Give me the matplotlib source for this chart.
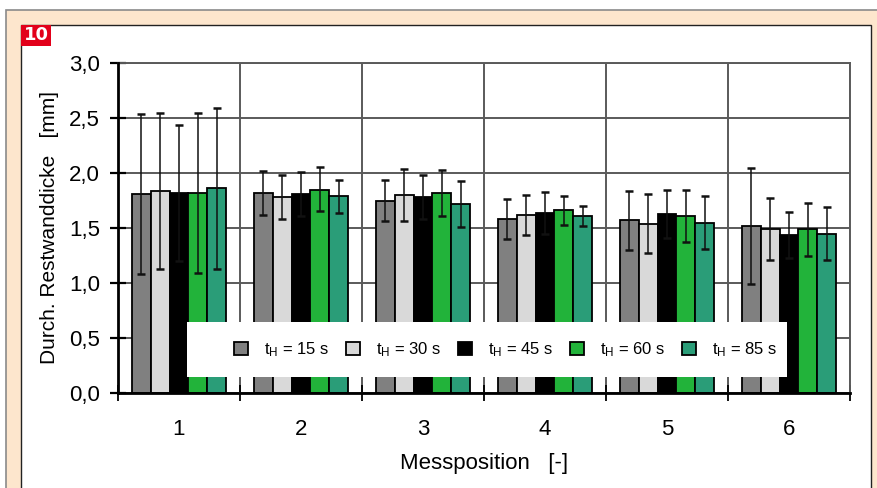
import matplotlib

matplotlib.use("Agg")
import matplotlib.pyplot as plt
import numpy as np
from matplotlib.patches import Rectangle
from matplotlib.ticker import FixedLocator, FuncFormatter

plt.rcParams["font.family"] = ["Liberation Sans Narrow", "Liberation Sans", "DejaVu Sans"]

# data
positions = [1, 2, 3, 4, 5, 6]
series_labels = ["15 s", "30 s", "45 s", "60 s", "85 s"]
series_colors = ["#808080", "#d9d9d9", "#000000", "#22b33a", "#2a9d78"]

th15 = [1.81, 1.82, 1.75, 1.58, 1.57, 1.52]
th30 = [1.84, 1.78, 1.80, 1.62, 1.54, 1.49]
th45 = [1.82, 1.81, 1.78, 1.64, 1.63, 1.44]
th60 = [1.82, 1.85, 1.82, 1.66, 1.61, 1.49]
th85 = [1.86, 1.79, 1.72, 1.61, 1.55, 1.45]

err15 = [0.73, 0.20, 0.19, 0.18, 0.27, 0.53]
err30 = [0.71, 0.20, 0.24, 0.18, 0.27, 0.28]
err45 = [0.62, 0.20, 0.20, 0.19, 0.22, 0.21]
err60 = [0.73, 0.20, 0.21, 0.13, 0.24, 0.24]
err85 = [0.73, 0.15, 0.21, 0.09, 0.24, 0.24]

means = [th15, th30, th45, th60, th85]
errors = [err15, err30, err45, err60, err85]

W, H = 878, 488
fig = plt.figure(figsize=(W / 100, H / 100), dpi=100)


def fx(x):
    return x / W


def fy(y):
    return 1 - y / H


# page frame: peach border with grey outline, white inner panel
fig.patches.append(Rectangle((fx(6), fy(492)), fx(890 - 6), fy(10) - fy(492),
                             transform=fig.transFigure, facecolor="#fde6cd",
                             edgecolor="#8a8a8a", linewidth=1.2, zorder=-10))
fig.patches.append(Rectangle((fx(21), fy(492)), fx(871 - 21), fy(25) - fy(492),
                             transform=fig.transFigure, facecolor="white",
                             edgecolor="#222222", linewidth=1.0, zorder=-9))
fig.patches.append(Rectangle((fx(21), fy(46)), fx(30), fy(25) - fy(46),
                             transform=fig.transFigure, facecolor="#e2001a",
                             edgecolor="none", zorder=-8))
fig.text(fx(36), fy(35.5), "10", color="white", fontsize=13, fontweight="bold",
         family="DejaVu Sans", ha="center", va="center")

ax = fig.add_axes([fx(118), fy(393), fx(850 - 118), fy(63) - fy(393)])
ax.set_facecolor("none")

n = len(means)
bar_w = 0.154
x = np.array(positions, dtype=float)
for i in range(n):
    offs = (i - (n - 1) / 2) * bar_w
    ax.bar(x + offs, means[i], width=bar_w, color=series_colors[i],
           edgecolor="black", linewidth=1.3, zorder=2,
           label=r"$\mathregular{t_H}$ = " + series_labels[i])
    ax.errorbar(x + offs, means[i], yerr=errors[i], fmt="none", ecolor="#111111",
                elinewidth=1.1, capsize=3, capthick=1.8, zorder=3)

ax.set_xlim(0.5, 6.5)
ax.set_ylim(0, 3.0)

ax.yaxis.set_major_locator(FixedLocator(np.arange(0, 3.01, 0.5)))
ax.yaxis.set_major_formatter(FuncFormatter(lambda v, p: f"{v:.1f}".replace(".", ",")))
ax.set_xticks(positions)
ax.set_xticklabels([str(p) for p in positions])
ax.xaxis.set_minor_locator(FixedLocator(np.arange(0.5, 6.6, 1.0)))

ax.tick_params(axis="x", which="major", length=0, pad=19, labelsize=16)
ax.tick_params(axis="x", which="minor", direction="inout", length=12, width=1.3)
ax.tick_params(axis="y", direction="inout", length=12, width=1.6, pad=7, labelsize=16)

ax.grid(True, axis="y", color="#5a5a5a", linewidth=1.4, zorder=0)
ax.grid(True, axis="x", which="minor", color="#5a5a5a", linewidth=1.4, zorder=0)
ax.set_axisbelow(True)

for s in ["top", "right"]:
    ax.spines[s].set_color("#5a5a5a")
    ax.spines[s].set_linewidth(1.4)
for s in ["left", "bottom"]:
    ax.spines[s].set_color("black")
    ax.spines[s].set_linewidth(2.0)
    ax.spines[s].set_zorder(6)

ax.set_xlabel("Messposition   [-]", fontsize=16, labelpad=9)
ax.set_ylabel("Durch. Restwanddicke   [mm]", fontsize=15, labelpad=7)

# legend box covering the lower part of the bars
ax.add_patch(Rectangle(((187 - 118) / 732, (393 - 377) / 330),
                       (787 - 187) / 732, (377 - 322) / 330,
                       transform=ax.transAxes, facecolor="white",
                       edgecolor="none", zorder=4))
leg = ax.legend(loc="center", bbox_to_anchor=((506 - 118) / 732, (393 - 350) / 330),
                ncol=5, frameon=False, fontsize=12, handlelength=0.8,
                handleheight=0.8, handletextpad=1.0, columnspacing=1.0)
leg.set_zorder(5)

fig.savefig("out.png", dpi=100)
